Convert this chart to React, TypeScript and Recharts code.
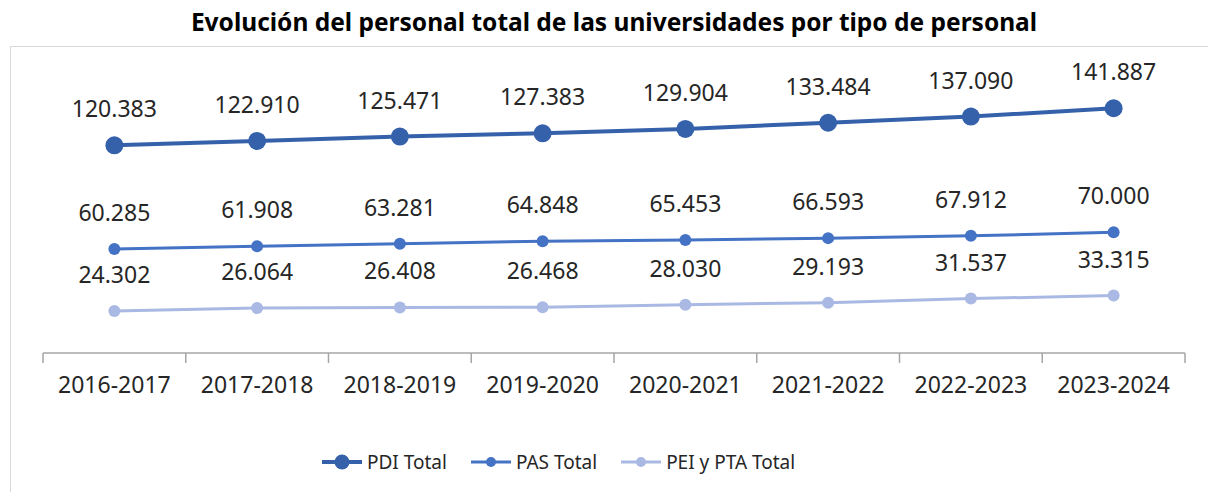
import { LineChart, Line, XAxis, YAxis, Legend, LabelList } from 'recharts'

const cursos = [
  '2016-2017',
  '2017-2018',
  '2018-2019',
  '2019-2020',
  '2020-2021',
  '2021-2022',
  '2022-2023',
  '2023-2024',
]
const pdiTotal = [120383, 122910, 125471, 127383, 129904, 133484, 137090, 141887]
const pasTotal = [60285, 61908, 63281, 64848, 65453, 66593, 67912, 70000]
const peiPtaTotal = [24302, 26064, 26408, 26468, 28030, 29193, 31537, 33315]

const CHART_W = 1208
const CHART_H = 492
const MARGIN = { top: 77, right: 23, left: 43, bottom: 99 }
const PLOT_W = CHART_W - MARGIN.left - MARGIN.right
const FONT = '"Noto Sans", "Open Sans", sans-serif'
const TEXT = '#262626'

const series = [
  { key: 'pdi', name: 'PDI Total', color: '#3561AB', width: 4, r: 9, legendR: 7.5 },
  { key: 'pas', name: 'PAS Total', color: '#4472C4', width: 3, r: 6, legendR: 5 },
  { key: 'pei', name: 'PEI y PTA Total', color: '#A9B9E3', width: 3, r: 6, legendR: 5 },
]

const data = cursos.map((curso, i) => ({
  curso,
  pdi: pdiTotal[i],
  pas: pasTotal[i],
  pei: peiPtaTotal[i],
}))

function fmt(v: number): string {
  return String(v).replace(/\B(?=(\d{3})+(?!\d))/g, '.')
}

function CursoTick(props: any) {
  const { x, y, payload, index } = props
  const band = PLOT_W / cursos.length
  const tickStyle = { stroke: '#A6A6A6', strokeWidth: 1.5 }
  return (
    <g>
      <line x1={x - band / 2} x2={x - band / 2} y1={y} y2={y + 10} {...tickStyle} />
      {index === cursos.length - 1 && (
        <line x1={x + band / 2} x2={x + band / 2} y1={y} y2={y + 10} {...tickStyle} />
      )}
      <text
        x={x}
        y={y + 31}
        textAnchor="middle"
        dominantBaseline="central"
        fontSize={23}
        fontFamily={FONT}
        fill={TEXT}
      >
        {payload.value}
      </text>
    </g>
  )
}

function ValueLabel(props: any) {
  const x = props.x ?? props.viewBox?.x
  const y = props.y ?? props.viewBox?.y
  if (x == null || y == null) return null
  return (
    <text
      x={x}
      y={y - 37}
      textAnchor="middle"
      dominantBaseline="central"
      fontSize={23}
      fontFamily={FONT}
      fill={TEXT}
    >
      {fmt(Number(props.value))}
    </text>
  )
}

function SeriesLegend() {
  return (
    <div
      style={{
        display: 'flex',
        alignItems: 'center',
        gap: 24,
        paddingLeft: 322,
        height: 30,
        fontFamily: FONT,
        fontSize: 19,
        color: TEXT,
      }}
    >
      {series.map((s) => (
        <div key={s.key} style={{ display: 'flex', alignItems: 'center', gap: 5 }}>
          <svg width={40} height={20}>
            <line x1={0} x2={40} y1={10} y2={10} stroke={s.color} strokeWidth={s.width} />
            <circle cx={20} cy={10} r={s.legendR} fill={s.color} />
          </svg>
          <span>{s.name}</span>
        </div>
      ))}
    </div>
  )
}

export default function App() {
  return (
    <div
      style={{
        position: 'absolute',
        left: 0,
        top: 0,
        width: CHART_W,
        height: CHART_H,
        background: '#fff',
        overflow: 'hidden',
      }}
    >
      <div
        style={{
          position: 'absolute',
          left: 10,
          top: 46,
          right: -2,
          bottom: -2,
          borderTop: '1px solid #D9D9D9',
          borderLeft: '1px solid #D9D9D9',
        }}
      />
      <div
        style={{
          position: 'absolute',
          left: 10,
          top: 6,
          width: CHART_W,
          textAlign: 'center',
          fontFamily: FONT,
          fontWeight: 700,
          fontSize: 24.5,
          color: '#000',
          lineHeight: '32px',
        }}
      >
        Evolución del personal total de las universidades por tipo de personal
      </div>
      <LineChart width={CHART_W} height={CHART_H} data={data} margin={MARGIN}>
        <XAxis
          dataKey="curso"
          scale="band"
          interval={0}
          height={40}
          tickSize={0}
          tickMargin={0}
          tickLine={false}
          axisLine={{ stroke: '#A6A6A6', strokeWidth: 1.5 }}
          tick={<CursoTick />}
        />
        <YAxis hide domain={[0, 160000]} />
        <Legend
          layout="horizontal"
          verticalAlign="middle"
          align="center"
          wrapperStyle={{ top: 447, left: 0, width: CHART_W }}
          content={<SeriesLegend />}
        />
        {series.map((s) => (
          <Line
            key={s.key}
            type="linear"
            dataKey={s.key}
            name={s.name}
            stroke={s.color}
            strokeWidth={s.width}
            dot={{ r: s.r, fill: s.color, stroke: s.color, strokeWidth: 0 }}
            activeDot={false}
            isAnimationActive={false}
          >
            <LabelList dataKey={s.key} content={<ValueLabel />} />
          </Line>
        ))}
      </LineChart>
    </div>
  )
}
